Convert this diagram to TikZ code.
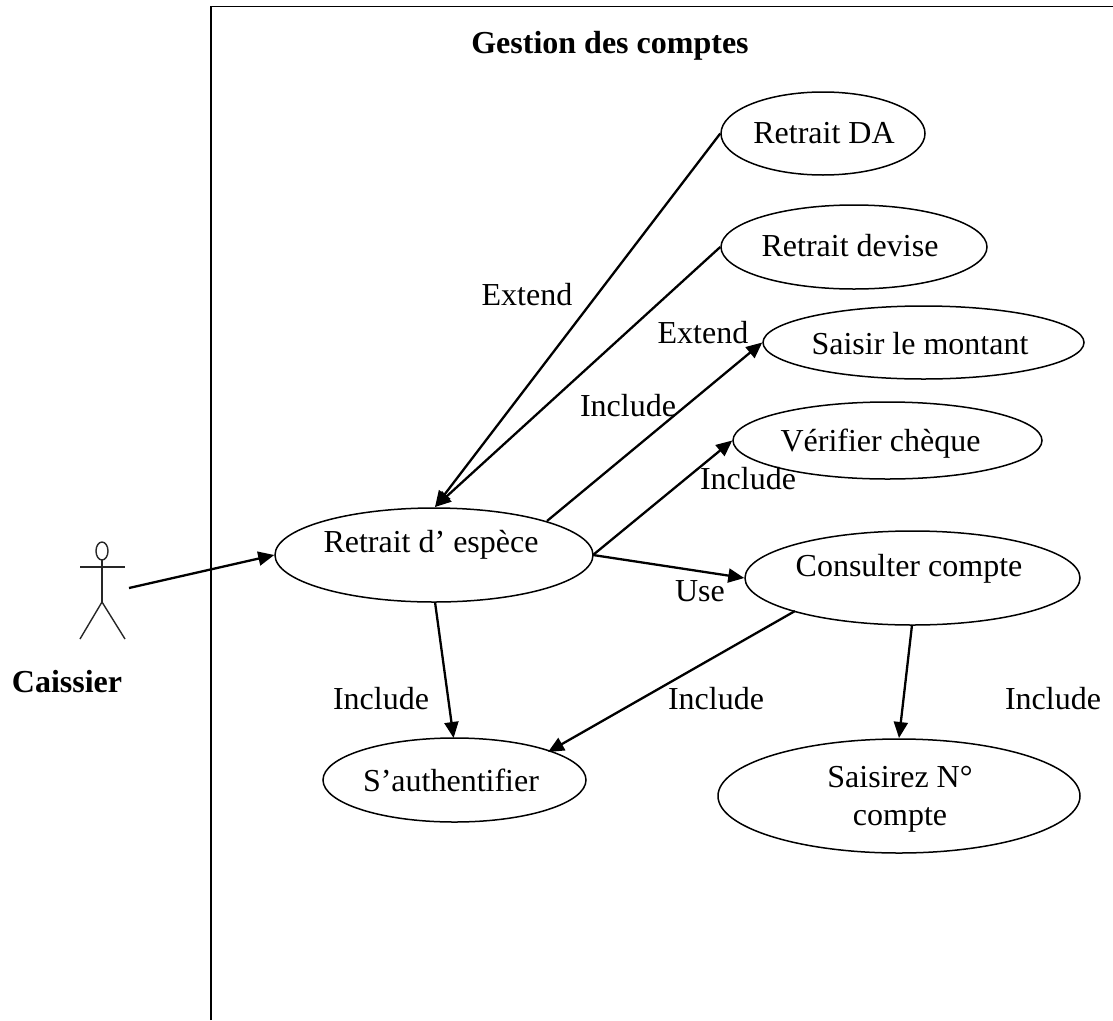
\documentclass[tikz,border=0pt]{standalone}
\usepackage{fontspec}
\setmainfont{Liberation Serif}
\usetikzlibrary{arrows.meta,shapes.geometric}
\tikzset{
 uc/.style={draw,ellipse,line width=1.5pt,inner sep=0pt},
 lbl/.style={inner sep=0pt,align=center,font=\fontsize{32}{37.5}\selectfont},
 blbl/.style={inner sep=0pt,font=\bfseries\fontsize{32}{38}\selectfont},
 rel/.style={line width=2.3pt,-{Triangle[length=16pt,width=14pt]}},
 relback/.style={line width=2.3pt,{Triangle[length=16pt,width=14pt]}-},
 actor/.style={line width=1.4pt,black!85}
}
\begin{document}
\begin{tikzpicture}[x=1pt,y=-1pt]
\useasboundingbox (0,0) rectangle (1113,1020);
\draw[line width=1.8pt] (211,1020) -- (211,6.5) -- (1113,6.5);
\node[blbl] (title) at (610,46) {Gestion des comptes};
\node[uc,minimum width=204,minimum height=83] (da) at (823,133.5) {};
\node[lbl] (datxt) at (824,133) {Retrait DA};
\node[uc,minimum width=266,minimum height=84] (dev) at (854,247) {};
\node[lbl] (devtxt) at (850,246) {Retrait devise};
\node[uc,minimum width=321,minimum height=73] (mont) at (923.5,342.5) {};
\node[lbl] (monttxt) at (920,344) {Saisir le montant};
\node[uc,minimum width=309,minimum height=77] (verif) at (887.5,440.5) {};
\node[lbl] (veriftxt) at (880.5,444) {Vérifier chèque};
\node[uc,minimum width=318,minimum height=94] (ret) at (434,555) {};
\node[lbl] (rettxt) at (431,545) {Retrait d’ espèce};
\node[uc,minimum width=335,minimum height=94] (cons) at (912.5,578) {};
\node[lbl] (constxt) at (909,569) {Consulter compte};
\node[uc,minimum width=263,minimum height=84] (auth) at (454.5,780) {};
\node[lbl] (authtxt) at (451,780) {S’authentifier};
\node[uc,minimum width=362,minimum height=114] (num) at (899,796) {};
\node[lbl] (numtxt) at (900,799.5) {Saisirez N°\\compte};
\coordinate (hand) at (129,588);
\draw[rel] (hand) -- (ret.west);
\coordinate (retA) at (435,507);
\draw[relback] (retA) -- (da.west);
\draw[relback] (retA) -- (dev.west);
\coordinate (retB) at (547,521);
\coordinate (retC) at (593,555);
\coordinate (retD) at (435,602);
\coordinate (consA) at (795,611);
\coordinate (consB) at (912,625);
\coordinate (authA) at (548,752);
\coordinate (numA) at (899,738);
\coordinate (authB) at (453.6,738);
\draw[rel] (retB) -- (mont.west);
\draw[rel] (retC) -- (verif.west);
\draw[rel] (retC) -- (cons.west);
\draw[rel] (retD) -- (authB);
\draw[rel] (consA) -- (authA);
\draw[rel] (consB) -- (numA);
\node[lbl] (l1) at (527,295) {Extend};
\node[lbl] (l2) at (703,333) {Extend};
\node[lbl] (l3) at (628,406) {Include};
\node[lbl] (l4) at (748,479) {Include};
\node[lbl] (l5) at (700,591) {Use};
\node[lbl] (l6) at (381,699) {Include};
\node[lbl] (l7) at (716,699) {Include};
\node[lbl] (l8) at (1053,699) {Include};
\node[blbl] (caissier) at (67,682) {Caissier};
\draw[actor] (102,551) ellipse (6 and 9);
\draw[actor] (102,560) -- (102,602);
\draw[actor] (80,567) -- (125,567);
\draw[actor] (102,602) -- (80,639);
\draw[actor] (102,602) -- (125,639);
\end{tikzpicture}
\end{document}
